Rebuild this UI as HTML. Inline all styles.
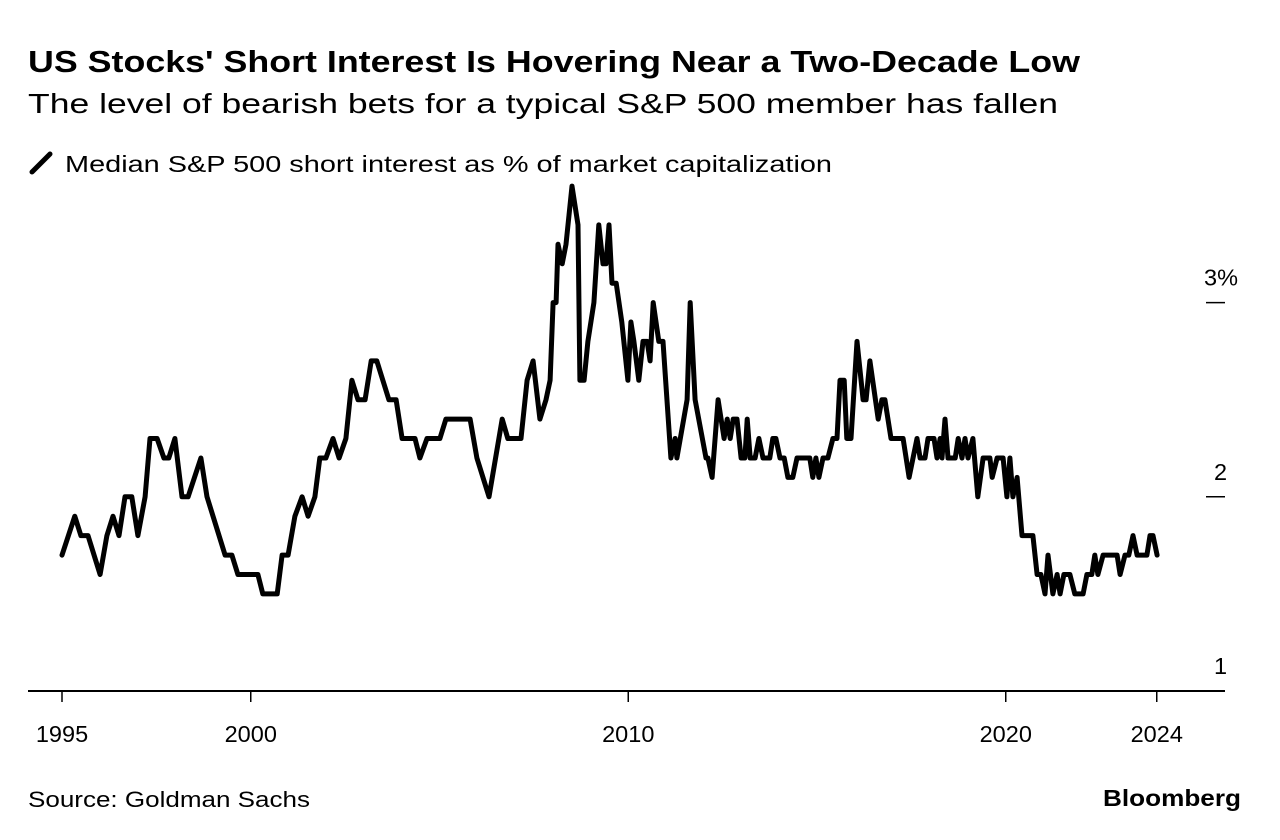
<!DOCTYPE html>
<html><head><meta charset="utf-8">
<style>
html,body{margin:0;padding:0;background:#fff;}
svg{display:block;font-family:"Liberation Sans",Arial,sans-serif;}
</style></head>
<body>
<svg id="chart" width="1280" height="840" viewBox="0 0 1280 840" xmlns="http://www.w3.org/2000/svg">
<text x="28" y="72" font-size="31" font-weight="bold" fill="#000" textLength="1052" lengthAdjust="spacingAndGlyphs">US Stocks' Short Interest Is Hovering Near a Two-Decade Low</text>
<text x="28" y="113" font-size="28" fill="#000" textLength="1030" lengthAdjust="spacingAndGlyphs">The level of bearish bets for a typical S&amp;P 500 member has fallen</text>
<line x1="32" y1="172" x2="50" y2="154" stroke="#000" stroke-width="5" stroke-linecap="round"/>
<text x="65" y="172" font-size="23" fill="#000" textLength="767" lengthAdjust="spacingAndGlyphs">Median S&amp;P 500 short interest as % of market capitalization</text>
<g id="yaxis"></g>
<g id="xaxis"></g>
<path id="series" fill="none" stroke="#000" stroke-width="5" stroke-linejoin="round" stroke-linecap="round"/>
<line x1="28" y1="691" x2="1225" y2="691" stroke="#000" stroke-width="2"/>
<text x="28" y="807" font-size="22" fill="#000" textLength="282" lengthAdjust="spacingAndGlyphs">Source: Goldman Sachs</text>
<text x="1103" y="806" font-size="23" font-weight="bold" fill="#000" textLength="138" lengthAdjust="spacingAndGlyphs">Bloomberg</text>
</svg>
<script>
const years=[1995.00,1995.34,1995.50,1995.69,1996.01,1996.19,1996.35,1996.51,1996.67,1996.85,1997.01,1997.20,1997.33,1997.52,1997.70,1997.83,1997.99,1998.18,1998.34,1998.68,1998.84,1999.32,1999.50,1999.66,2000.19,2000.32,2000.70,2000.83,2000.99,2001.17,2001.36,2001.52,2001.70,2001.83,2001.99,2002.18,2002.34,2002.52,2002.68,2002.84,2003.03,2003.19,2003.34,2003.66,2003.85,2004.01,2004.35,2004.48,2004.67,2005.01,2005.17,2005.81,2005.99,2006.31,2006.66,2006.81,2007.16,2007.32,2007.48,2007.66,2007.82,2007.93,2008.01,2008.09,2008.14,2008.25,2008.35,2008.51,2008.67,2008.72,2008.83,2008.93,2009.09,2009.22,2009.33,2009.41,2009.49,2009.57,2009.68,2009.83,2009.99,2010.07,2010.15,2010.28,2010.39,2010.50,2010.58,2010.66,2010.81,2010.92,2011.13,2011.24,2011.29,2011.56,2011.64,2011.77,2012.06,2012.11,2012.22,2012.38,2012.54,2012.62,2012.70,2012.78,2012.88,2012.99,2013.09,2013.15,2013.23,2013.36,2013.46,2013.57,2013.75,2013.83,2013.91,2014.02,2014.13,2014.23,2014.36,2014.47,2014.81,2014.89,2014.97,2015.05,2015.16,2015.29,2015.42,2015.53,2015.61,2015.72,2015.79,2015.90,2016.06,2016.22,2016.30,2016.40,2016.62,2016.72,2016.80,2016.96,2017.28,2017.44,2017.65,2017.73,2017.86,2017.94,2018.10,2018.18,2018.26,2018.31,2018.39,2018.47,2018.66,2018.74,2018.84,2018.92,2019.00,2019.13,2019.26,2019.40,2019.58,2019.64,2019.77,2019.93,2020.03,2020.11,2020.19,2020.30,2020.43,2020.72,2020.83,2020.93,2021.04,2021.12,2021.25,2021.36,2021.44,2021.54,2021.70,2021.83,2022.05,2022.15,2022.28,2022.36,2022.44,2022.58,2022.95,2023.03,2023.16,2023.26,2023.37,2023.48,2023.74,2023.82,2023.90,2024.01];
const values=[1.7,1.9,1.8,1.8,1.6,1.8,1.9,1.8,2.0,2.0,1.8,2.0,2.3,2.3,2.2,2.2,2.3,2.0,2.0,2.2,2.0,1.7,1.7,1.6,1.6,1.5,1.5,1.7,1.7,1.9,2.0,1.9,2.0,2.2,2.2,2.3,2.2,2.3,2.6,2.5,2.5,2.7,2.7,2.5,2.5,2.3,2.3,2.2,2.3,2.3,2.4,2.4,2.2,2.0,2.4,2.3,2.3,2.6,2.7,2.4,2.5,2.6,3.0,3.0,3.3,3.2,3.3,3.6,3.4,2.6,2.6,2.8,3.0,3.4,3.2,3.2,3.4,3.1,3.1,2.9,2.6,2.9,2.8,2.6,2.8,2.8,2.7,3.0,2.8,2.8,2.2,2.3,2.2,2.5,3.0,2.5,2.2,2.2,2.1,2.5,2.3,2.4,2.3,2.4,2.4,2.2,2.2,2.4,2.2,2.2,2.3,2.2,2.2,2.3,2.3,2.2,2.2,2.1,2.1,2.2,2.2,2.1,2.2,2.1,2.2,2.2,2.3,2.3,2.6,2.6,2.3,2.3,2.8,2.5,2.5,2.7,2.4,2.5,2.5,2.3,2.3,2.1,2.3,2.2,2.2,2.3,2.3,2.2,2.3,2.2,2.4,2.2,2.2,2.3,2.2,2.3,2.2,2.3,2.0,2.2,2.2,2.1,2.2,2.2,2.0,2.2,2.0,2.1,1.8,1.8,1.6,1.6,1.5,1.7,1.5,1.6,1.5,1.6,1.6,1.5,1.5,1.6,1.6,1.7,1.6,1.7,1.7,1.6,1.7,1.7,1.8,1.7,1.7,1.8,1.8,1.7];
const yTicks=[1,2,3];
const yTickLabels=["1","2","3%"];
const xTicks=[1995,2000,2010,2020,2024];
const xTickLabels=["1995","2000","2010","2020","2024"];

const NS="http://www.w3.org/2000/svg";
function xs(y){return 62+(y-1995)*37.75;}
function ys(v){return 691-(v-1)*194.2;}

let d="";
for(let i=0;i<years.length;i++){d+=(i?"L":"M")+xs(years[i]).toFixed(1)+","+ys(values[i]).toFixed(1);}
document.getElementById("series").setAttribute("d",d);

const ya=document.getElementById("yaxis");
yTicks.forEach((t,i)=>{
  if(t>1){
    const l=document.createElementNS(NS,"line");
    
    
    l.setAttribute("x1",1206);l.setAttribute("x2",1225);
    l.setAttribute("y1",ys(t));l.setAttribute("y2",ys(t));
    l.setAttribute("stroke","#000");l.setAttribute("stroke-width","1.5");
    ya.appendChild(l);
  }
  const tx=document.createElementNS(NS,"text");
  
  
  tx.setAttribute("x",t===3?1204:1214);
  tx.setAttribute("y",ys(t)-17);
  tx.setAttribute("font-size","23.5");
  tx.textContent=yTickLabels[i];
  ya.appendChild(tx);
});

const xa=document.getElementById("xaxis");
xTicks.forEach((t,i)=>{
  const l=document.createElementNS(NS,"line");
  
  
  l.setAttribute("x1",xs(t));l.setAttribute("x2",xs(t));
  l.setAttribute("y1",691);l.setAttribute("y2",702);
  l.setAttribute("stroke","#000");l.setAttribute("stroke-width","1.5");
  xa.appendChild(l);
  const tx=document.createElementNS(NS,"text");
  
  
  tx.setAttribute("x",xs(t));tx.setAttribute("y",742);
  tx.setAttribute("font-size","23.5");tx.setAttribute("text-anchor","middle");
  tx.textContent=xTickLabels[i];
  xa.appendChild(tx);
});
</script>
</body></html>
